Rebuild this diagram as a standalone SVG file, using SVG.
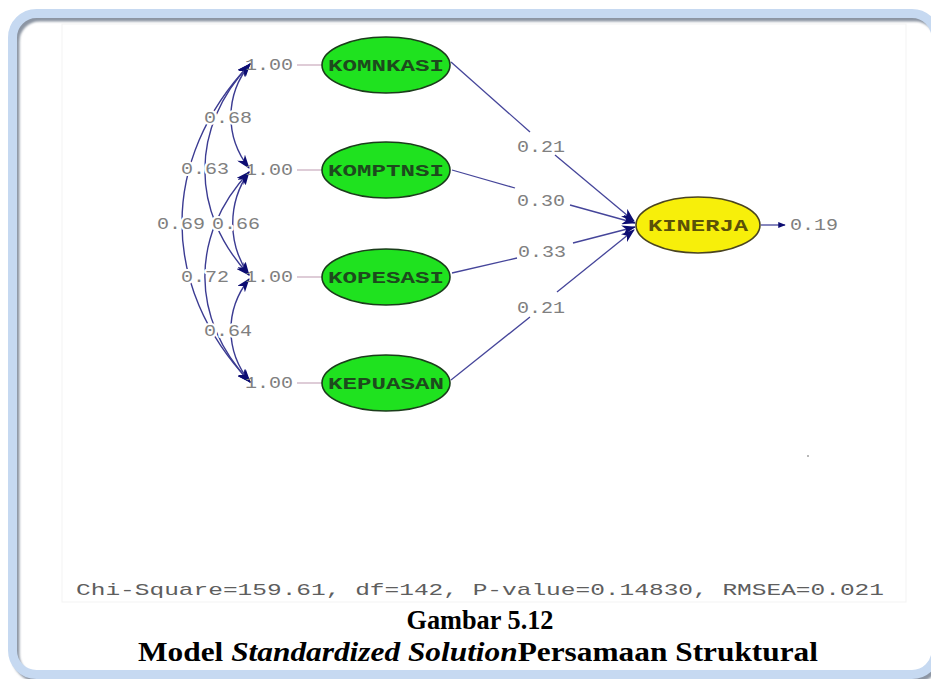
<svg xmlns="http://www.w3.org/2000/svg" width="931" height="679" viewBox="0 0 931 679">
  <defs>
    <style>
      .num { font-family: "Liberation Mono", "DejaVu Sans Mono", monospace; font-size: 16px; fill: #808080; text-anchor: middle; }
      .halo { stroke: #ffffff; stroke-width: 4px; paint-order: stroke; stroke-linejoin: round; }
      .lat { font-family: "Liberation Mono", "DejaVu Sans Mono", monospace; font-size: 17px; font-weight: bold; text-anchor: middle; }
      .exo ellipse { fill: #1fe21f; stroke: #1b3d1b; stroke-width: 1.6; }
      .exo text { fill: #1d4a1d; }
      .endo ellipse { fill: #f7ef0a; stroke: #4a4420; stroke-width: 1.6; }
      .endo text { fill: #5b5208; }
      .cov { fill: none; stroke: #3b3b92; stroke-width: 1.4; marker-start: url(#head); marker-end: url(#head); }
      .path { fill: none; stroke: #45459a; stroke-width: 1.3; }
      .tie { stroke: #c9aabd; stroke-width: 1.2; }
      .caption { font-family: "Liberation Serif", serif; font-weight: bold; fill: #000000; text-anchor: middle; }
      .caption .it { font-style: italic; }
      .fit { font-family: "Liberation Mono", "DejaVu Sans Mono", monospace; font-size: 17px; fill: #5e5e5e; }
    </style>
    <marker id="head" viewBox="0 0 14 10" refX="13" refY="5" markerWidth="14" markerHeight="10" markerUnits="userSpaceOnUse" orient="auto-start-reverse">
      <path d="M0,0 L14,5 L0,10 L4,5 z" fill="#0d0d72"/>
    </marker>
    <marker id="tip" viewBox="0 0 10 8" refX="9" refY="4" markerWidth="8" markerHeight="6" markerUnits="userSpaceOnUse" orient="auto">
      <path d="M0,0 L10,4 L0,8 z" fill="#0d0d72"/>
    </marker>
    <filter id="soft" x="-5%" y="-5%" width="110%" height="110%">
      <feGaussianBlur stdDeviation="1"/>
    </filter>
  </defs>

  <rect x="0" y="0" width="931" height="679" fill="#ffffff"/>

  <!-- rounded frame with its shadow -->
  <g id="frame">
    <rect x="15.5" y="17.5" width="923.5" height="661" rx="24" fill="none" stroke="#8c95a3" stroke-width="8" filter="url(#soft)"/>
    <rect x="12.5" y="13.5" width="923.5" height="661" rx="24" fill="none" stroke="#c6d9f1" stroke-width="9"/>
    <rect x="62" y="24" width="844" height="578" fill="none" stroke="#f3f3f3" stroke-width="1"/>
  </g>

  <!-- connectors -->
  <g id="connectors">
    <!-- variance ties -->
    <line class="tie" x1="297" y1="65" x2="322" y2="65"/>
    <line class="tie" x1="297" y1="170" x2="322" y2="170"/>
    <line class="tie" x1="297" y1="277" x2="322" y2="277"/>
    <line class="tie" x1="297" y1="383" x2="322" y2="383"/>

    <!-- covariances between exogenous factors -->
    <path class="cov" d="M250,64 C224.7,95.2 224.7,136.8 249,168"/>
    <path class="cov" d="M250,64 C190,127.3 190,211.7 249,275"/>
    <path class="cov" d="M250,64 C159.3,159.4 159.3,286.6 250,382"/>
    <path class="cov" d="M249,172 C227.3,202.9 227.3,244.1 249,275"/>
    <path class="cov" d="M249,172 C190,235 190,319 250,382"/>
    <path class="cov" d="M249,279 C224.7,309.9 224.7,351.1 250,382"/>

    <!-- structural paths into KINERJA -->
    <path class="path" d="M451,62 L530,132"/>
    <path class="path" d="M555,155 L634,221" marker-end="url(#head)"/>
    <path class="path" d="M452,170 L515,188"/>
    <path class="path" d="M570,205 L635,223" marker-end="url(#head)"/>
    <path class="path" d="M452,273 L517,258"/>
    <path class="path" d="M573,243 L635,227" marker-end="url(#head)"/>
    <path class="path" d="M451,380 L530,317"/>
    <path class="path" d="M557,292 L634,230" marker-end="url(#head)"/>

    <!-- error term -->
    <path class="path" d="M761,225 L785,225" stroke-width="2" marker-end="url(#tip)"/>

    <!-- coefficient labels -->
    <text class="num halo" x="228" y="123" textLength="48" lengthAdjust="spacingAndGlyphs">0.68</text>
    <text class="num halo" x="205" y="174" textLength="48" lengthAdjust="spacingAndGlyphs">0.63</text>
    <text class="num halo" x="181" y="229" textLength="48" lengthAdjust="spacingAndGlyphs">0.69</text>
    <text class="num halo" x="236" y="229" textLength="48" lengthAdjust="spacingAndGlyphs">0.66</text>
    <text class="num halo" x="205" y="282" textLength="48" lengthAdjust="spacingAndGlyphs">0.72</text>
    <text class="num halo" x="228" y="336" textLength="48" lengthAdjust="spacingAndGlyphs">0.64</text>

    <text class="num" x="541" y="152" textLength="48" lengthAdjust="spacingAndGlyphs">0.21</text>
    <text class="num" x="541" y="206" textLength="48" lengthAdjust="spacingAndGlyphs">0.30</text>
    <text class="num" x="542" y="257" textLength="48" lengthAdjust="spacingAndGlyphs">0.33</text>
    <text class="num" x="541" y="313" textLength="48" lengthAdjust="spacingAndGlyphs">0.21</text>
    <text class="num" x="814" y="230" textLength="48" lengthAdjust="spacingAndGlyphs">0.19</text>
  </g>

  <!-- variance values -->
  <g id="variances">
    <text class="num" x="269" y="70" textLength="48" lengthAdjust="spacingAndGlyphs">1.00</text>
    <text class="num" x="269" y="175" textLength="48" lengthAdjust="spacingAndGlyphs">1.00</text>
    <text class="num" x="269" y="282" textLength="48" lengthAdjust="spacingAndGlyphs">1.00</text>
    <text class="num" x="269" y="388" textLength="48" lengthAdjust="spacingAndGlyphs">1.00</text>
  </g>

  <!-- latent variables -->
  <g id="komnkasi" class="exo">
    <ellipse cx="386" cy="65" rx="64" ry="28"/>
    <text class="lat" x="386" y="71" textLength="116" lengthAdjust="spacingAndGlyphs">KOMNKASI</text>
  </g>
  <g id="komptnsi" class="exo">
    <ellipse cx="386" cy="170" rx="64" ry="28"/>
    <text class="lat" x="386" y="176" textLength="116" lengthAdjust="spacingAndGlyphs">KOMPTNSI</text>
  </g>
  <g id="kopesasi" class="exo">
    <ellipse cx="386" cy="277" rx="64" ry="28"/>
    <text class="lat" x="386" y="283" textLength="116" lengthAdjust="spacingAndGlyphs">KOPESASI</text>
  </g>
  <g id="kepuasan" class="exo">
    <ellipse cx="386" cy="383" rx="64" ry="28"/>
    <text class="lat" x="386" y="389" textLength="116" lengthAdjust="spacingAndGlyphs">KEPUASAN</text>
  </g>
  <g id="kinerja" class="endo">
    <ellipse cx="698" cy="225" rx="62" ry="28"/>
    <text class="lat" x="698" y="231" textLength="100" lengthAdjust="spacingAndGlyphs">KINERJA</text>
  </g>

  <circle cx="808" cy="456" r="1" fill="#a0a0a0"/>

  <!-- fit statistics and caption -->
  <text class="fit" x="76" y="595" textLength="808" lengthAdjust="spacingAndGlyphs">Chi-Square=159.61, df=142, P-value=0.14830, RMSEA=0.021</text>
  <text class="caption" x="480" y="629" font-size="27" textLength="147" lengthAdjust="spacingAndGlyphs">Gambar 5.12</text>
  <text class="caption" x="478" y="661" font-size="28" textLength="680" lengthAdjust="spacingAndGlyphs">Model <tspan class="it">Standardized Solution</tspan>Persamaan Struktural</text>
</svg>
